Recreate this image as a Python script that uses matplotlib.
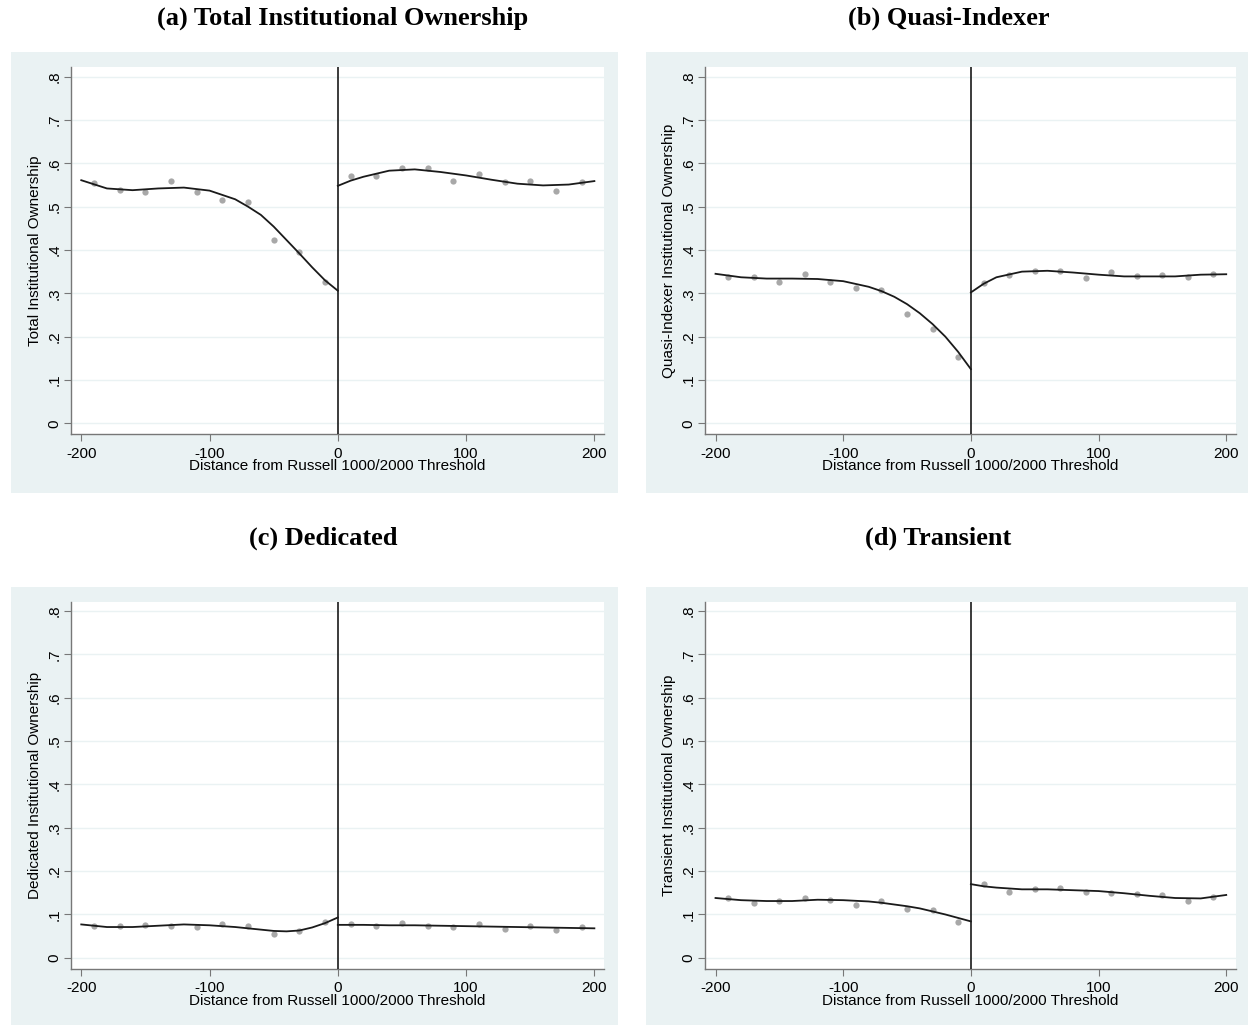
import matplotlib
matplotlib.use("Agg")
import matplotlib.pyplot as plt
from matplotlib.patches import Rectangle

# bin centres of the scatter (20-unit bins on each side of the cutoff)
bins_left = [-190, -170, -150, -130, -110, -90, -70, -50, -30, -10]
bins_right = [10, 30, 50, 70, 90, 110, 130, 150, 170, 190]

fit_left_x = [-200, -180, -160, -140, -120, -100, -80, -70, -60, -50, -40, -30, -20, -10, 0]
fit_right_x = [0, 10, 20, 40, 60, 80, 100, 120, 140, 160, 180, 200]

# (a) Total institutional ownership
total_left = [0.554, 0.538, 0.534, 0.560, 0.534, 0.515, 0.511, 0.423, 0.395, 0.325]
total_right = [0.571, 0.570, 0.590, 0.590, 0.560, 0.575, 0.557, 0.560, 0.535, 0.556]
total_fit_left = [0.561, 0.542, 0.538, 0.542, 0.544, 0.537, 0.517, 0.500, 0.481, 0.454,
                  0.423, 0.392, 0.360, 0.330, 0.306]
total_fit_right = [0.548, 0.560, 0.569, 0.583, 0.586, 0.580, 0.572, 0.562, 0.553, 0.549, 0.551, 0.559]

# (b) Quasi-indexer
quasi_left = [0.337, 0.338, 0.327, 0.345, 0.325, 0.312, 0.308, 0.252, 0.218, 0.154]
quasi_right = [0.323, 0.343, 0.352, 0.352, 0.336, 0.349, 0.341, 0.342, 0.338, 0.344]
quasi_fit_left = [0.345, 0.337, 0.334, 0.334, 0.333, 0.328, 0.315, 0.305, 0.292, 0.275,
                  0.254, 0.229, 0.200, 0.165, 0.125]
quasi_fit_right = [0.302, 0.322, 0.337, 0.350, 0.352, 0.348, 0.343, 0.339, 0.339, 0.339, 0.343, 0.344]

# (c) Dedicated
ded_left = [0.073, 0.073, 0.076, 0.073, 0.072, 0.077, 0.073, 0.054, 0.062, 0.082]
ded_right = [0.078, 0.073, 0.080, 0.074, 0.070, 0.078, 0.066, 0.073, 0.064, 0.070]
ded_fit_left = [0.077, 0.071, 0.071, 0.074, 0.077, 0.075, 0.071, 0.068, 0.065, 0.062,
                0.061, 0.063, 0.070, 0.080, 0.093]
ded_fit_right = [0.076, 0.076, 0.076, 0.075, 0.075, 0.074, 0.073, 0.072, 0.071, 0.070, 0.069, 0.068]

# (d) Transient
trans_left = [0.139, 0.126, 0.130, 0.139, 0.134, 0.122, 0.130, 0.113, 0.111, 0.083]
trans_right = [0.170, 0.153, 0.158, 0.160, 0.152, 0.149, 0.148, 0.145, 0.132, 0.141]
trans_fit_left = [0.138, 0.133, 0.131, 0.131, 0.134, 0.133, 0.130, 0.127, 0.123, 0.119,
                  0.114, 0.107, 0.100, 0.092, 0.084]
trans_fit_right = [0.170, 0.165, 0.162, 0.158, 0.158, 0.156, 0.154, 0.149, 0.143, 0.138, 0.137, 0.145]

panels = [
    ("(a) Total Institutional Ownership", "Total Institutional Ownership",
     total_left, total_right, total_fit_left, total_fit_right),
    ("(b) Quasi-Indexer", "Quasi-Indexer Institutional Ownership",
     quasi_left, quasi_right, quasi_fit_left, quasi_fit_right),
    ("(c) Dedicated", "Dedicated Institutional Ownership",
     ded_left, ded_right, ded_fit_left, ded_fit_right),
    ("(d) Transient", "Transient Institutional Ownership",
     trans_left, trans_right, trans_fit_left, trans_fit_right),
]

yticks = [0, 0.1, 0.2, 0.3, 0.4, 0.5, 0.6, 0.7, 0.8]
ytick_labels = ["0", ".1", ".2", ".3", ".4", ".5", ".6", ".7", ".8"]
xticks = [-200, -100, 0, 100, 200]

W, H = 1248, 1025
BG = "#eaf2f3"
plt.rcParams["font.family"] = ["Liberation Sans", "DejaVu Sans"]

fig = plt.figure(figsize=(W / 100, H / 100), dpi=100)


def px_box(x0, x1, y0, y1):
    # pixel box (top-left origin) -> figure fraction rect
    return [x0 / W, 1 - y1 / H, (x1 - x0) / W, (y1 - y0) / H]


# panel background regions (x0, x1, y0, y1) in pixels
bg_boxes = [(11, 618, 52, 493), (646, 1248, 52, 493),
            (11, 618, 587, 1025), (646, 1248, 587, 1025)]
ax_boxes = [(71, 604, 67.3, 434.3), (705.3, 1235.8, 67.3, 434.3),
            (71, 604, 601.8, 968.8), (705.3, 1235.8, 601.8, 968.8)]
title_pos = [(343, 18), (949, 18), (323, 538), (938, 538)]

for (x0, x1, y0, y1) in bg_boxes:
    fig.patches.append(Rectangle((x0 / W, 1 - y1 / H), (x1 - x0) / W, (y1 - y0) / H,
                                 transform=fig.transFigure, facecolor=BG,
                                 edgecolor="none", zorder=-10))

for i, (title, ylabel, pl, pr, fl, fr) in enumerate(panels):
    ax = fig.add_axes(px_box(*ax_boxes[i]))
    ax.set_zorder(1)
    ax.set_facecolor("white")
    for y in yticks:
        ax.axhline(y, color=BG, lw=1.0, zorder=0)
    ax.plot(bins_left, pl, "o", color="#a8a8a8", ms=4.5, mec="none", zorder=2)
    ax.plot(bins_right, pr, "o", color="#a8a8a8", ms=4.5, mec="none", zorder=2)
    ax.plot(fit_left_x, fl, color="#1a1a1a", lw=1.3, zorder=3)
    ax.plot(fit_right_x, fr, color="#1a1a1a", lw=1.3, zorder=3)
    ax.axvline(0, color="#1a1a1a", lw=1.2, zorder=3)

    ax.set_xlim(-208, 207.5)
    ax.set_ylim(-0.0254, 0.8216)
    ax.set_xticks(xticks)
    ax.set_xticklabels([str(t) for t in xticks])
    ax.set_yticks(yticks)
    ax.set_yticklabels(ytick_labels, rotation=90, va="center")
    ax.tick_params(axis="both", direction="out", length=5, width=0.8,
                   color="#777777", labelsize=11, pad=2)
    ax.tick_params(axis="x", pad=4)
    for side in ("top", "right"):
        ax.spines[side].set_visible(False)
    for side in ("left", "bottom"):
        ax.spines[side].set_color("#777777")
        ax.spines[side].set_linewidth(1.0)
    ax.set_xlabel("Distance from Russell 1000/2000 Threshold", fontsize=11, labelpad=-1)
    ax.set_ylabel(ylabel, fontsize=11, labelpad=4)

    tx, ty = title_pos[i]
    fig.text(tx / W, 1 - ty / H, title, ha="center", va="center",
             fontsize=19, fontweight="bold", family="Liberation Serif")

fig.savefig("out.png", dpi=100)
